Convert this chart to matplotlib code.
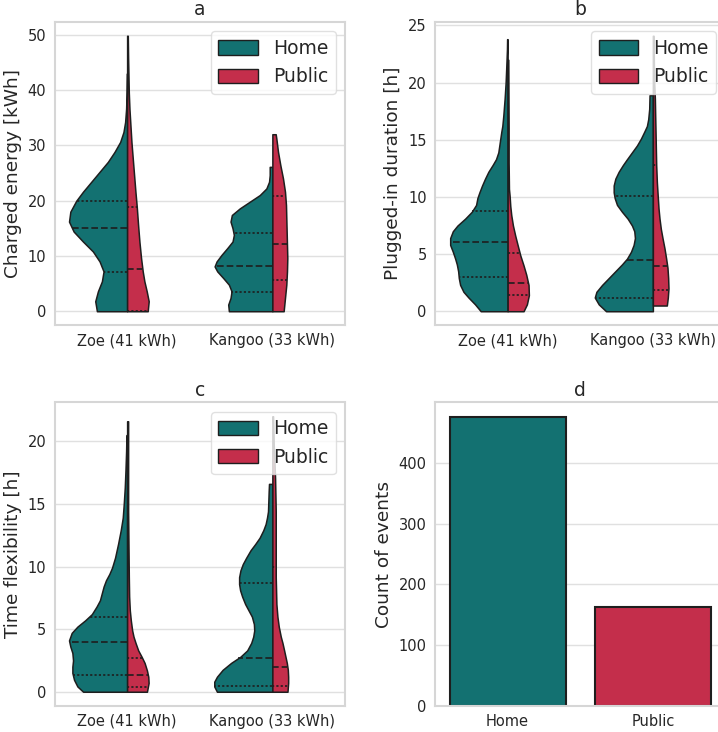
import numpy as np
import matplotlib
matplotlib.use("Agg")
import matplotlib.pyplot as plt
from matplotlib.patches import Patch

# categories
cars = ["Zoe (41 kWh)", "Kangoo (33 kWh)"]
locations = ["Home", "Public"]
loc_colors = ["#137171", "#c42e4b"]

# ---- panel a: charged energy [kWh]  (y value, relative density)
a_zoe_home_y = [0, 1.8, 3.6, 5.4, 7.2, 9, 10.8, 12.6, 14.4, 16.2, 18, 20, 21.6, 23.4, 25.2, 27, 28.8,
                30.6, 32.4, 34.2, 36.6, 39.6, 43]
a_zoe_home_d = [91, 96, 88, 76, 71, 83, 103, 133, 161, 175, 171, 153, 133, 108, 83, 58, 38,
                21, 11, 6, 3, 1.5, 0.5]
a_zoe_pub_y = [0, 1.8, 3.6, 5.4, 7.2, 9.6, 12.6, 15.6, 18.9, 21.6, 24.6, 27.6, 30.6, 33.6, 36.6, 39.6, 45.6, 49.8]
a_zoe_pub_d = [62, 65, 59, 52, 47, 42, 37, 33, 29, 25, 21, 17, 13, 10, 7, 5, 3, 2]
a_kan_home_y = [0, 1.2, 2.4, 3.6, 4.8, 6, 7.2, 8.1, 9, 10.2, 11.4, 12.6, 13.8, 15, 16.2, 17.4, 18.6,
                19.8, 21, 22.2, 23.4, 24.6, 26.1]
a_kan_home_d = [131, 133, 126, 123, 131, 148, 166, 174, 168, 153, 136, 120, 116, 120, 126, 122, 98,
                68, 38, 18, 10, 8, 8]
a_kan_pub_y = [0, 2.4, 4.8, 7.2, 9.6, 12, 14.4, 16.8, 19.2, 21.6, 24, 26.4, 28.8, 31.2, 32]
a_kan_pub_d = [34, 38, 42, 44, 45, 44, 43, 42, 41, 38, 32, 24, 17, 12, 10]
a_quart = [[7.15, 15.0, 20.0], [0.1, 7.7, 18.9], [3.5, 8.1, 14.2], [5.6, 12.2, 20.8]]

# ---- panel b: plugged-in duration [h]
b_zoe_home_y = [0, 0.6, 1.2, 1.7, 2.3, 2.9, 3.5, 4.1, 4.6, 5.2, 5.8, 6.4, 7.0, 7.5, 8.1, 8.7, 9.3, 9.9,
                10.4, 11.0, 11.6, 12.2, 12.8, 13.3, 13.9, 14.5, 15.1, 15.7, 16.2, 17.1, 18.6, 20.0, 21.4,
                22.9, 23.8]
b_zoe_home_d = [81, 98, 118, 133, 143, 147, 149, 153, 158, 165, 173, 173, 165, 151, 128, 108, 95, 91,
                85, 77, 68, 58, 45, 35, 28, 25, 22, 19, 16, 13, 9, 6, 4,
                2, 1.5]
b_zoe_pub_y = [0, 0.6, 1.4, 2.3, 3.2, 4.0, 4.9, 5.8, 6.6, 7.5, 8.4, 9.2, 10.1, 10.7, 13, 16, 19, 22]
b_zoe_pub_d = [48, 58, 64, 63, 56, 48, 38, 30, 23, 16, 11, 8, 6, 4, 3, 3, 2.5, 2]
b_kan_home_y = [0, 0.6, 1.2, 1.7, 2.3, 2.9, 3.5, 4.1, 4.6, 5.2, 5.8, 6.4, 7.0, 7.5, 8.1, 8.7, 9.3, 9.9,
                10.4, 11.0, 11.6, 12.2, 12.8, 13.3, 13.9, 14.5, 15.1, 15.7, 16.2, 16.8, 17.7, 18.9]
b_kan_home_d = [141, 163, 175, 170, 153, 133, 113, 93, 78, 66, 58, 54, 56, 63, 76, 93, 108, 115,
                118, 118, 113, 103, 90, 78, 63, 48, 36, 26, 18, 14, 11, 10]
b_kan_pub_y = [0.5, 1.2, 2.0, 2.9, 3.8, 4.6, 5.5, 6.4, 7.2, 8.1, 9.0, 9.9, 11.3, 12.8, 14.2, 15.7, 17.1,
               18.6, 20, 21.4, 24.1]
b_kan_pub_d = [42, 45, 47, 46, 44, 40, 35, 29, 24, 20, 17, 15, 12, 10, 9, 8, 7, 6, 4, 3, 2]
b_quart = [[3.0, 6.1, 8.8], [1.4, 2.45, 5.1], [1.2, 4.5, 10.1], [1.9, 3.95, 12.8]]

# ---- panel c: time flexibility [h]
c_zoe_home_y = [0, 0.42, 0.95, 1.5, 2.0, 2.5, 3.1, 3.6, 4.1, 4.7, 5.2, 5.7, 6.2, 6.8, 7.3, 7.8, 8.4, 8.9,
                9.4, 9.9, 10.7, 11.8, 12.9, 13.9, 15.0, 16.3, 17.6, 19.2, 20.5]
c_zoe_home_d = [131, 148, 158, 163, 163, 161, 163, 169, 173, 165, 148, 125, 105, 91, 81, 76, 70, 63,
                53, 45, 36, 27, 19, 13, 10, 7, 5, 3, 2]
c_zoe_pub_y = [0, 0.7, 1.2, 1.7, 2.3, 2.8, 3.3, 3.9, 4.4, 4.9, 5.7, 6.5, 7.6, 9.2, 11.8, 14.4, 17.1, 21.6]
c_zoe_pub_d = [59, 64, 63, 59, 52, 43, 33, 25, 19, 15, 11, 8, 6, 5, 4, 3, 3, 3]
c_kan_home_y = [0, 0.42, 0.8, 1.2, 1.75, 2.3, 2.8, 3.3, 3.9, 4.4, 4.9, 5.4, 6.0, 6.5, 7.0, 7.6, 8.1, 8.6,
                9.15, 9.7, 10.2, 10.7, 11.3, 11.8, 12.3, 12.9, 13.4, 13.9, 14.4, 15.2, 16.0, 16.6]
c_kan_home_d = [165, 173, 173, 165, 148, 123, 95, 75, 63, 57, 54, 55, 61, 71, 81, 90, 96, 99,
                99, 95, 88, 78, 65, 51, 38, 27, 20, 16, 13, 12, 11, 10]
c_kan_pub_y = [0, 0.7, 1.2, 1.75, 2.3, 2.8, 3.3, 3.9, 4.4, 5.2, 6.0, 7.0, 8.1, 9.15, 10.5, 11.8, 13.1,
               14.4, 15.8, 17.1, 18.4, 19.7, 21.1, 22.0]
c_kan_pub_d = [45, 47, 47, 46, 43, 39, 35, 30, 25, 19, 15, 12, 11, 10, 10, 10, 10,
               10, 9, 8, 6, 4, 3, 2]
c_quart = [[1.3, 4.0, 6.0], [0.34, 1.32, 2.67], [0.48, 2.67, 8.65], [0.48, 1.96, 9.95]]

# ---- panel d: count of events
counts = [476, 163]

# ---------------- style (seaborn whitegrid look)
plt.rcParams.update({
    "font.family": ["DejaVu Sans"],
    "text.color": "0.15",
    "axes.labelcolor": "0.15",
    "xtick.color": "0.15",
    "ytick.color": "0.15",
    "axes.edgecolor": "0.84",
    "axes.linewidth": 1.5,
    "grid.color": "0.88",
    "grid.linewidth": 1.0,
})
edge = "#1e1e1e"

fig = plt.figure(figsize=(7.18, 7.32), dpi=100)
W, H = 718.0, 732.0
boxes = [(54.5, 22, 345, 325), (435, 22, 725.5, 325), (54.5, 402.5, 345, 705.5), (435, 402.5, 725.5, 705.5)]
axes = [fig.add_axes([l / W, 1 - b / H, (r - l) / W, (b - t) / H]) for (l, t, r, b) in boxes]


def style_ax(ax, title, ylabel):
    ax.set_axisbelow(True)
    ax.grid(axis="y")
    ax.grid(axis="x", visible=False)
    ax.tick_params(length=0, pad=6, labelsize=10.5)
    ax.set_title(title, fontsize=13.5, pad=5)
    ax.set_ylabel(ylabel, fontsize=13.3)
    ax.set_xlim(-0.5, 1.5)
    ax.set_xticks([0, 1])


def violin_panel(ax, profiles, quarts):
    dmax = max(max(d) for _, d in profiles)
    for k, ((y, d), q) in enumerate(zip(profiles, quarts)):
        pos = k // 2
        side = -1 if k % 2 == 0 else 1
        y = np.array(y)
        w = np.array(d) / dmax * 0.4
        ax.fill_betweenx(y, pos, pos + side * w, facecolor=loc_colors[k % 2],
                         edgecolor=edge, linewidth=1.1, zorder=2)
        for j, qv in enumerate(q):
            wq = np.interp(qv, y, w)
            ls = (0, (4, 1.8)) if j == 1 else (0, (1.3, 1.3))
            ax.plot([pos, pos + side * wq], [qv, qv], color=edge, lw=1.2,
                    linestyle=ls, zorder=3)
    ax.set_xticklabels(cars)
    handles = [Patch(facecolor=c, edgecolor=edge, linewidth=1.0, label=l)
               for c, l in zip(loc_colors, locations)]
    ax.legend(handles=handles, loc="upper right", fontsize=13.5, framealpha=0.8,
              edgecolor="0.85", fancybox=True, handlelength=2.1, handleheight=0.8)


ax = axes[0]
style_ax(ax, "a", "Charged energy [kWh]")
violin_panel(ax, [(a_zoe_home_y, a_zoe_home_d), (a_zoe_pub_y, a_zoe_pub_d),
                  (a_kan_home_y, a_kan_home_d), (a_kan_pub_y, a_kan_pub_d)], a_quart)

ax = axes[1]
style_ax(ax, "b", "Plugged-in duration [h]")
violin_panel(ax, [(b_zoe_home_y, b_zoe_home_d), (b_zoe_pub_y, b_zoe_pub_d),
                  (b_kan_home_y, b_kan_home_d), (b_kan_pub_y, b_kan_pub_d)], b_quart)

ax = axes[2]
style_ax(ax, "c", "Time flexibility [h]")
violin_panel(ax, [(c_zoe_home_y, c_zoe_home_d), (c_zoe_pub_y, c_zoe_pub_d),
                  (c_kan_home_y, c_kan_home_d), (c_kan_pub_y, c_kan_pub_d)], c_quart)

ax = axes[3]
style_ax(ax, "d", "Count of events")
ax.bar(range(len(locations)), counts, width=0.8, color=loc_colors, edgecolor=edge, linewidth=1.5, zorder=2)
ax.set_xticklabels(locations)

fig.savefig("out.png", dpi=100)
